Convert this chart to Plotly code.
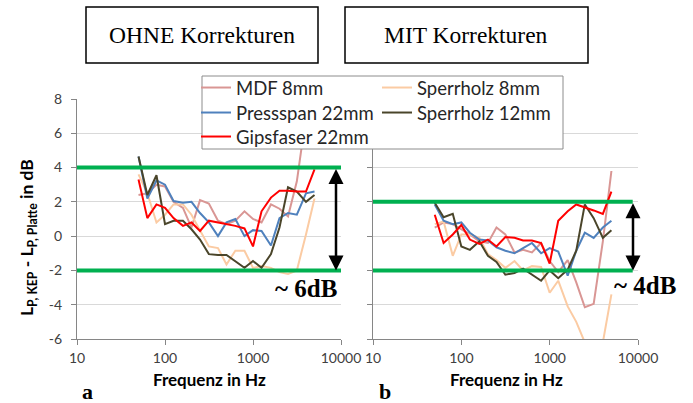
import plotly.graph_objects as go

# ---------------- data ----------------
freq = [50, 63, 80, 100, 125, 160, 200, 250, 315, 400, 500, 630, 800,
        1000, 1250, 1600, 2000, 2500, 3150, 4000, 5000]

names = ["MDF 8mm", "Sperrholz 8mm", "Pressspan 22mm", "Sperrholz 12mm", "Gipsfaser 22mm"]

# OHNE Korrekturen (a)
mdf_ohne  = [2.4, 2.5, 3.0, 2.9, 2.0, 1.65, 0.5, 2.1, 1.9, 0.9, 0.7, 0.9, 1.45,
             1.0, 0.8, 1.85, 1.6, 1.15, 3.2, 7.0, 7.5]
sp8_ohne  = [3.6, 2.5, 0.8, 1.25, 1.85, 1.85, 1.25, 0.3, -0.6, -0.7, -1.65, -0.85, -0.85,
             -1.85, -1.75, -1.85, -2.1, -2.2, -2.0, 0.1, 2.2]
pp_ohne   = [4.65, 2.2, 3.25, 3.0, 2.05, 1.95, 2.0, 1.35, 0.8, 0.0, 0.8, 1.0, 0.0,
             0.35, 0.3, -0.55, 1.05, 1.35, 1.25, 2.5, 2.6]
sp12_ohne = [4.65, 2.4, 3.55, 0.7, 0.9, 0.9, 0.4, -0.2, -1.05, -1.1, -1.1, -1.45, -1.85,
             -1.45, -1.85, -1.05, 0.5, 2.85, 2.6, 2.0, 2.4]
gips_ohne = [3.3, 1.05, 1.85, 1.65, 1.05, 0.6, 0.8, 0.3, 0.9, 0.8, 0.7, 0.6, 0.45,
             -0.6, 1.45, 2.25, 2.65, 2.65, 2.6, 2.6, 3.9]

# MIT Korrekturen (b)
mdf_mit  = [0.5, 0.8, 0.7, 0.4, 0.1, -0.3, -0.4, 0.5, 0.1, -0.95, -0.8, -0.95, -0.4,
            -1.45, -2.1, -1.4, -2.7, -4.15, -3.95, -0.3, 3.8]
sp8_mit  = [0.7, 0.85, -1.15, 0.1, 0.1, -0.1, -1.05, -1.4, -1.85, -1.45, -2.0, -1.75, -1.8,
            -3.3, -2.6, -4.1, -5.0, -6.2, -8.0, -6.2, -3.4]
pp_mit   = [1.85, 0.9, 0.7, 0.8, 0.2, -0.2, -0.25, -0.65, -0.85, -1.0, -0.7, -0.4, -1.0,
            -0.7, -0.9, -2.3, -0.85, 0.2, -0.1, 0.5, 0.9]
sp12_mit = [1.95, 1.1, 1.3, -0.6, -0.8, -0.3, -1.15, -1.5, -2.25, -2.15, -1.9, -2.25, -2.6,
            -2.0, -2.45, -1.95, -0.85, 1.85, 1.05, -0.1, 0.35]
gips_mit = [1.25, -0.4, 0.1, 0.65, -0.2, -0.45, -0.2, -0.6, -0.05, -0.1, -0.25, -0.25, -0.4,
            -1.6, 0.9, 1.45, 1.85, 1.7, 1.5, 1.3, 2.6]

band_ohne = [4, -2]
band_mit = [2, -2]
x_ticks = [10, 100, 1000, 10000]
y_ticks = [-6, -4, -2, 0, 2, 4, 6, 8]

# ---------------- layout helpers ----------------
W, H = 693, 403
def px(x):
    return x / W
def py(y):
    return 1 - y / H

colors = ["#D99694", "#FBCBA3", "#4F81BD", "#4A452A", "#FF0000"]
ohne = [mdf_ohne, sp8_ohne, pp_ohne, sp12_ohne, gips_ohne]
mit = [mdf_mit, sp8_mit, pp_mit, sp12_mit, gips_mit]
# one legend per entry, placed in a 2-column grid (col x-pixel, row y-pixel)
legend_ids = ["legend", "legend2", "legend3", "legend4", "legend5"]
legend_pos = [(196, 88), (377, 88), (196, 113), (377, 113), (196, 137)]

fig = go.Figure()
for i, nm in enumerate(names):
    fig.add_trace(go.Scatter(x=freq, y=ohne[i], mode="lines", name=nm,
                             line=dict(color=colors[i], width=2),
                             legend=legend_ids[i], xaxis="x", yaxis="y"))
for i, nm in enumerate(names):
    fig.add_trace(go.Scatter(x=freq, y=mit[i], mode="lines", name=nm,
                             line=dict(color=colors[i], width=2), showlegend=False,
                             xaxis="x2", yaxis="y2"))

tickfont = dict(family="Lato", size=14, color="#404040")
xcommon = dict(type="log", range=[1, 4], tickvals=x_ticks, ticktext=[str(v) for v in x_ticks],
               showline=True, linecolor="#868686", linewidth=1, ticks="outside", ticklen=5,
               tickcolor="#868686", showgrid=False, zeroline=False, tickfont=tickfont,
               automargin=False, ticklabelstandoff=1)
ycommon = dict(range=[-6, 8], tickvals=y_ticks, ticktext=[str(v) for v in y_ticks],
               showline=True, linecolor="#868686", linewidth=1,
               ticks="outside", ticklen=5, tickcolor="#868686", showgrid=True,
               gridcolor="#D9D9D9", gridwidth=1, zeroline=False, tickfont=tickfont,
               automargin=False, ticklabelstandoff=6)

layout_legends = {}
for lid, (lx, ly) in zip(legend_ids, legend_pos):
    layout_legends[lid] = dict(x=px(lx), y=py(ly), xanchor="left", yanchor="middle",
                               bgcolor="rgba(0,0,0,0)", borderwidth=0,
                               font=dict(family="Lato", size=18.5, color="#262626"),
                               itemwidth=30)

fig.update_layout(
    width=W, height=H, margin=dict(l=0, r=0, t=0, b=0),
    paper_bgcolor="white", plot_bgcolor="white", template="none",
    xaxis=dict(domain=[px(77), px(341)], anchor="y", **xcommon),
    xaxis2=dict(domain=[px(373), px(638)], anchor="y2", **xcommon),
    yaxis=dict(domain=[py(339), py(99)], anchor="x", **ycommon),
    yaxis2=dict(domain=[py(339), py(99)], anchor="x2", showticklabels=False, **ycommon),
    showlegend=True,
    **layout_legends,
)

shapes = []
# legend frame
shapes.append(dict(type="rect", xref="paper", yref="paper", x0=px(202), x1=px(563),
                   y0=py(149), y1=py(76), fillcolor="white",
                   line=dict(color="#8C8C8C", width=1), layer="above"))
# title frames
shapes.append(dict(type="rect", xref="paper", yref="paper", x0=px(86), x1=px(318),
                   y0=py(63), y1=py(7), line=dict(color="black", width=1.5)))
shapes.append(dict(type="rect", xref="paper", yref="paper", x0=px(345), x1=px(588),
                   y0=py(63), y1=py(7), line=dict(color="black", width=1.5)))
# green bands
for v in band_ohne:
    shapes.append(dict(type="line", xref="x domain", yref="y", x0=0, x1=1, y0=v, y1=v,
                       line=dict(color="#00B050", width=4), layer="above"))
for v in band_mit:
    shapes.append(dict(type="line", xref="x2 domain", yref="y2", x0=0, x1=0.98, y0=v, y1=v,
                       line=dict(color="#00B050", width=4), layer="above"))
fig.update_layout(shapes=shapes)

serif = "Liberation Serif"
def label(text, x, y, font, **kw):
    d = dict(text=text, x=px(x), y=py(y), xref="paper", yref="paper", showarrow=False,
             xanchor="center", yanchor="middle", font=font)
    d.update(kw)
    return d

ann = []
ann.append(label("OHNE Korrekturen", 202, 35, dict(family=serif, size=23.5, color="black")))
ann.append(label("MIT Korrekturen", 466, 35, dict(family=serif, size=23.5, color="black")))
# double arrows
ann.append(dict(text="", x=px(336), y=band_ohne[1], xref="paper", yref="y",
                ax=0, ay=band_ohne[0], axref="pixel", ayref="y", showarrow=True,
                arrowhead=2, startarrowhead=2, arrowside="end+start", arrowsize=1.2,
                startarrowsize=1.2, arrowwidth=2.5, arrowcolor="black"))
ann.append(dict(text="", x=px(633), y=band_mit[1], xref="paper", yref="y2",
                ax=0, ay=band_mit[0], axref="pixel", ayref="y2", showarrow=True,
                arrowhead=2, startarrowhead=2, arrowside="end+start", arrowsize=1.2,
                startarrowsize=1.2, arrowwidth=2.5, arrowcolor="black"))
ann.append(label("<b>~ 6dB</b>", 306, 288, dict(family=serif, size=25, color="black")))
ann.append(label("<b>~ 4dB</b>", 645, 285, dict(family=serif, size=25, color="black")))
ann.append(label("<b>a</b>", 87, 391, dict(family=serif, size=22, color="black")))
ann.append(label("<b>b</b>", 385, 391, dict(family=serif, size=22, color="black")))
ann.append(label("<b>Frequenz in Hz</b>", 209, 379, dict(family="Lato", size=17, color="black")))
ann.append(label("<b>Frequenz in Hz</b>", 506, 379, dict(family="Lato", size=17, color="black")))
ann.append(label("<b>L<sub>P, KEP</sub> - L<sub>P, Platte</sub> in dB</b>", 28, 238,
                 dict(family="Lato", size=17.5, color="black"), textangle=-90))
fig.update_layout(annotations=ann)

fig.write_html("out.html")
